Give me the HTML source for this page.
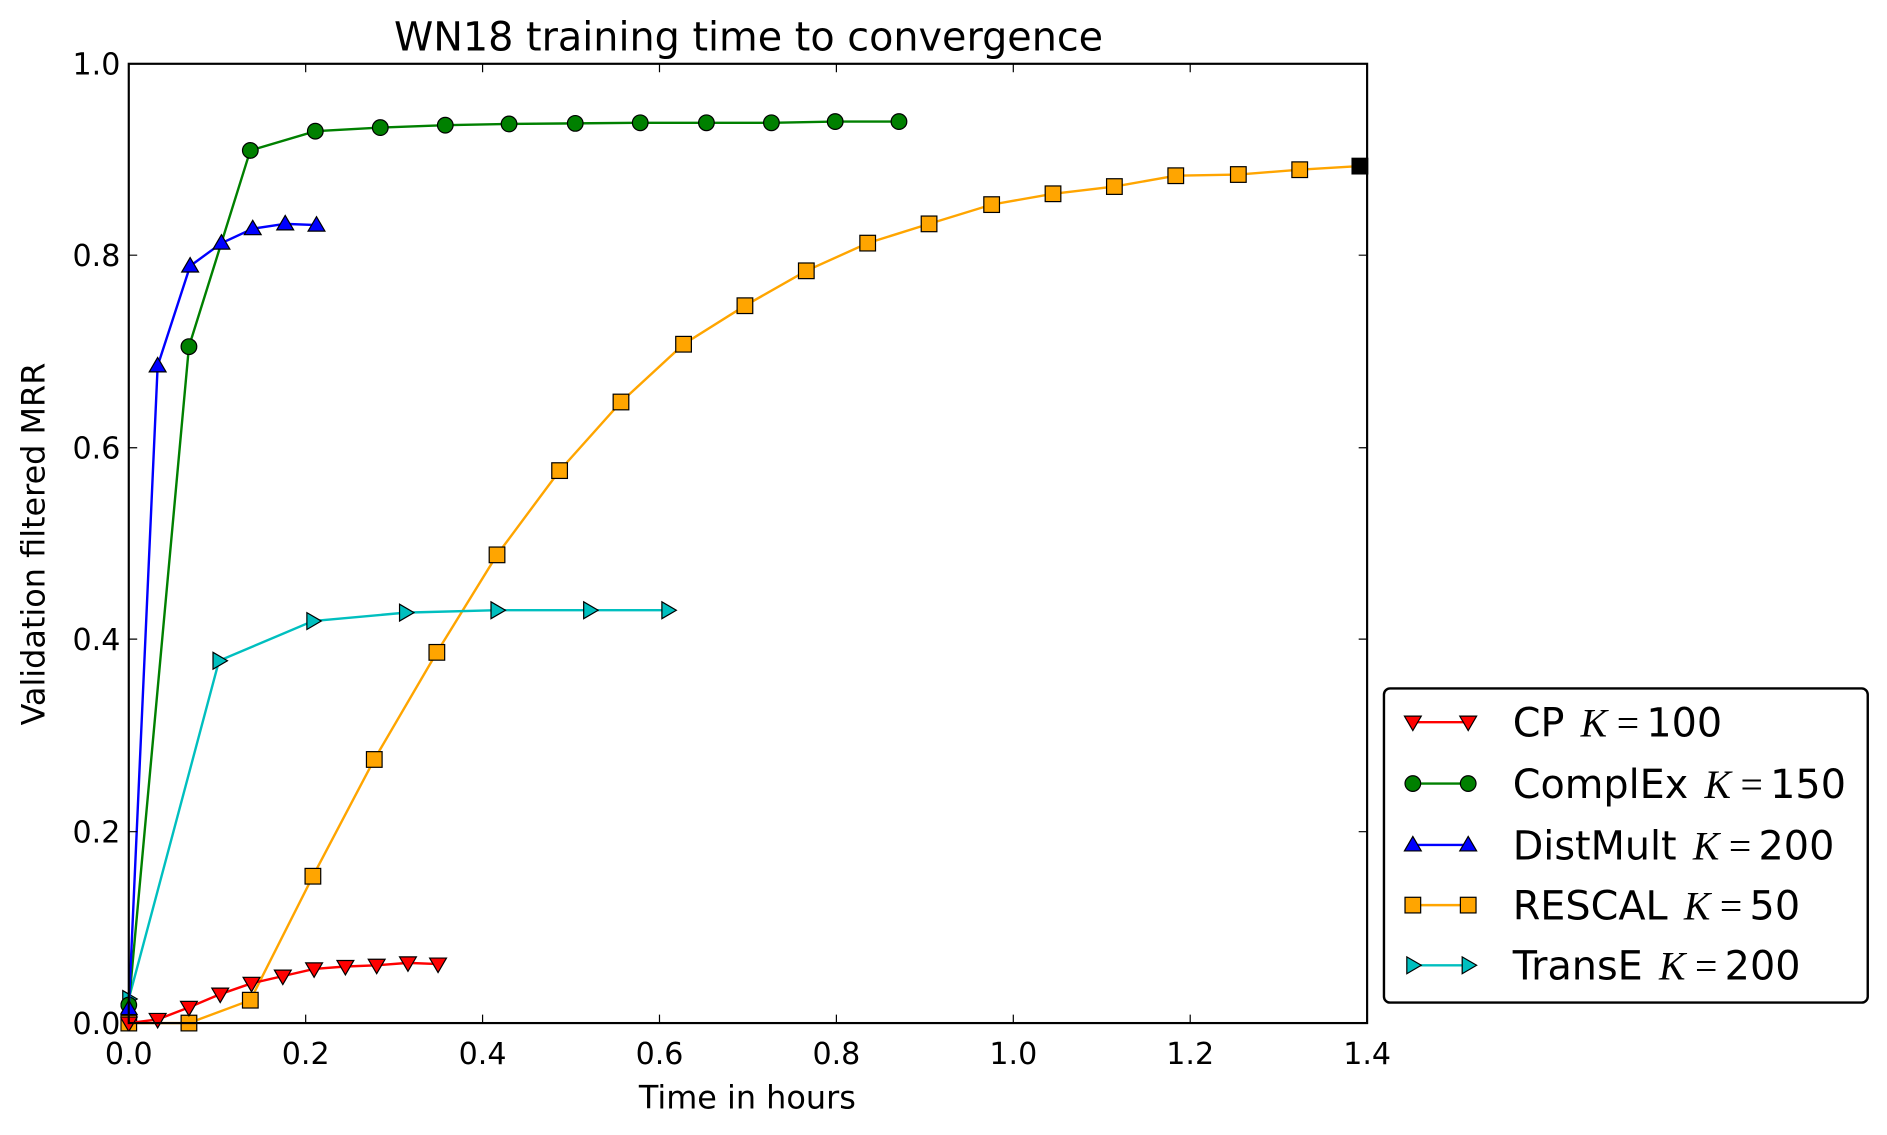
<!DOCTYPE html>
<html><head><style>html,body{margin:0;padding:0;background:#fff}svg{display:block}</style></head>
<body>
<svg width="1887" height="1135" viewBox="0 0 1568 943" preserveAspectRatio="none" xmlns="http://www.w3.org/2000/svg" font-family="DejaVu Sans, Liberation Sans, sans-serif">
<defs>
<path id="tv" d="M-7,-5 L7,-5 L0,7 Z" stroke="#000" stroke-width="1"/>
<path id="tu" d="M-7,5 L7,5 L0,-7 Z" stroke="#000" stroke-width="1"/>
<path id="tr" d="M-5,-7 L-5,7 L7,0 Z" stroke="#000" stroke-width="1"/>
<rect id="sq" x="-6.5" y="-6.5" width="13" height="13" stroke="#000" stroke-width="1"/>
<circle id="ci" r="6.5" stroke="#000" stroke-width="1"/>
</defs>
<rect width="1568" height="943" fill="#fff"/>
<text x="622" y="42" font-size="33" text-anchor="middle">WN18 training time to convergence</text>
<g clip-path="url(#c)">
<clipPath id="c"><rect x="100" y="46" width="1043" height="811"/></clipPath>
<polyline fill="none" stroke="#ffa500" stroke-width="2" points="107,850 157,850 208,831 260,728 311,631 363,542 413,461 465,391 516,334 568,286 619,254 670,225 721,202 772,186 824,170 875,161 926,155 977,146 1029,145 1080,141 1130,138"/>
<g fill="#ffa500">
<use href="#sq" x="107" y="850"/><use href="#sq" x="157" y="850"/><use href="#sq" x="208" y="831"/><use href="#sq" x="260" y="728"/><use href="#sq" x="311" y="631"/><use href="#sq" x="363" y="542"/><use href="#sq" x="413" y="461"/><use href="#sq" x="465" y="391"/><use href="#sq" x="516" y="334"/><use href="#sq" x="568" y="286"/><use href="#sq" x="619" y="254"/><use href="#sq" x="670" y="225"/><use href="#sq" x="721" y="202"/><use href="#sq" x="772" y="186"/><use href="#sq" x="824" y="170"/><use href="#sq" x="875" y="161"/><use href="#sq" x="926" y="155"/><use href="#sq" x="977" y="146"/><use href="#sq" x="1029" y="145"/><use href="#sq" x="1080" y="141"/><use href="#sq" x="1130" y="138" fill="#000"/>
</g>
<polyline fill="none" stroke="#00bfbf" stroke-width="2" points="107,830 182,549 260,516 337,509 413,507 490,507 555,507"/>
<g fill="#00bfbf"><use href="#tr" x="107" y="830"/><use href="#tr" x="182" y="549"/><use href="#tr" x="260" y="516"/><use href="#tr" x="337" y="509"/><use href="#tr" x="413" y="507"/><use href="#tr" x="490" y="507"/><use href="#tr" x="555" y="507"/></g>
<polyline fill="none" stroke="#008000" stroke-width="2" points="107,835 157,288 208,125 262,109 316,106 370,104 423,103 478,102.5 532,102 587,102 641,102 694,101 747,101"/>
<g fill="#008000"><use href="#ci" x="107" y="835"/><use href="#ci" x="157" y="288"/><use href="#ci" x="208" y="125"/><use href="#ci" x="262" y="109"/><use href="#ci" x="316" y="106"/><use href="#ci" x="370" y="104"/><use href="#ci" x="423" y="103"/><use href="#ci" x="478" y="102.5"/><use href="#ci" x="532" y="102"/><use href="#ci" x="587" y="102"/><use href="#ci" x="641" y="102"/><use href="#ci" x="694" y="101"/><use href="#ci" x="747" y="101"/></g>
<polyline fill="none" stroke="#0000ff" stroke-width="2" points="107,838 131,304 158,221 184,202 210,190 237,186 263,187"/>
<g fill="#0000ff"><use href="#tu" x="107" y="838"/><use href="#tu" x="131" y="304"/><use href="#tu" x="158" y="221"/><use href="#tu" x="184" y="202"/><use href="#tu" x="210" y="190"/><use href="#tu" x="237" y="186"/><use href="#tu" x="263" y="187"/></g>
<polyline fill="none" stroke="#ff0000" stroke-width="2" points="107,850 131,847 157,837 183,826 209,817 235,811 261,805 287,803 313,802 339,800 364,801"/>
<g fill="#ff0000"><use href="#tv" x="107" y="850"/><use href="#tv" x="131" y="847"/><use href="#tv" x="157" y="837"/><use href="#tv" x="183" y="826"/><use href="#tv" x="209" y="817"/><use href="#tv" x="235" y="811"/><use href="#tv" x="261" y="805"/><use href="#tv" x="287" y="803"/><use href="#tv" x="313" y="802"/><use href="#tv" x="339" y="800"/><use href="#tv" x="364" y="801"/></g>
</g>
<rect x="107" y="53" width="1029" height="797" fill="none" stroke="#000" stroke-width="1.8"/>
<g stroke="#000" stroke-width="1">
<path d="M254,850v-7M401,850v-7M548,850v-7M695,850v-7M842,850v-7M989,850v-7M254,53v7M401,53v7M548,53v7M695,53v7M842,53v7M989,53v7"/>
<path d="M107,691h7M107,531h7M107,372h7M107,212h7M1136,691h-7M1136,531h-7M1136,372h-7M1136,212h-7"/>
</g>
<g font-size="25" text-anchor="middle">
<text x="107" y="884">0.0</text><text x="254" y="884">0.2</text><text x="401" y="884">0.4</text><text x="548" y="884">0.6</text><text x="695" y="884">0.8</text><text x="842" y="884">1.0</text><text x="989" y="884">1.2</text><text x="1136" y="884">1.4</text>
</g>
<g font-size="25" text-anchor="end">
<text x="100" y="859">0.0</text><text x="100" y="700">0.2</text><text x="100" y="540">0.4</text><text x="100" y="381">0.6</text><text x="100" y="221">0.8</text><text x="100" y="62">1.0</text>
</g>
<text x="621" y="921" font-size="26.5" text-anchor="middle">Time in hours</text>
<text transform="translate(37,452) rotate(-90)" font-size="26.5" text-anchor="middle">Validation filtered MRR</text>
<rect x="1150" y="572" width="402" height="261" rx="5" fill="#fff" stroke="#000" stroke-width="2"/>
<g stroke-width="2">
<line x1="1174" y1="600" x2="1220" y2="600" stroke="#ff0000"/>
<line x1="1174" y1="651" x2="1220" y2="651" stroke="#008000"/>
<line x1="1174" y1="702" x2="1220" y2="702" stroke="#0000ff"/>
<line x1="1174" y1="752" x2="1220" y2="752" stroke="#ffa500"/>
<line x1="1174" y1="802" x2="1220" y2="802" stroke="#00bfbf"/>
</g>
<g fill="#ff0000"><use href="#tv" x="1174" y="600"/><use href="#tv" x="1220" y="600"/></g>
<g fill="#008000"><use href="#ci" x="1174" y="651"/><use href="#ci" x="1220" y="651"/></g>
<g fill="#0000ff"><use href="#tu" x="1174" y="702"/><use href="#tu" x="1220" y="702"/></g>
<g fill="#ffa500"><use href="#sq" x="1174" y="752"/><use href="#sq" x="1220" y="752"/></g>
<g fill="#00bfbf"><use href="#tr" x="1174" y="802"/><use href="#tr" x="1220" y="802"/></g>
<g font-size="33">
<text x="1257" y="612">CP <tspan font-family="Liberation Serif, serif" font-style="italic" dx="3">K</tspan><tspan font-family="Liberation Serif, serif" dx="8">=</tspan><tspan dx="6">100</tspan></text>
<text x="1257" y="663">ComplEx <tspan font-family="Liberation Serif, serif" font-style="italic" dx="3">K</tspan><tspan font-family="Liberation Serif, serif" dx="8">=</tspan><tspan dx="6">150</tspan></text>
<text x="1257" y="714">DistMult <tspan font-family="Liberation Serif, serif" font-style="italic" dx="3">K</tspan><tspan font-family="Liberation Serif, serif" dx="8">=</tspan><tspan dx="6">200</tspan></text>
<text x="1257" y="764">RESCAL <tspan font-family="Liberation Serif, serif" font-style="italic" dx="3">K</tspan><tspan font-family="Liberation Serif, serif" dx="8">=</tspan><tspan dx="6">50</tspan></text>
<text x="1257" y="814">TransE <tspan font-family="Liberation Serif, serif" font-style="italic" dx="3">K</tspan><tspan font-family="Liberation Serif, serif" dx="8">=</tspan><tspan dx="6">200</tspan></text>
</g>
</svg>
</body></html>
